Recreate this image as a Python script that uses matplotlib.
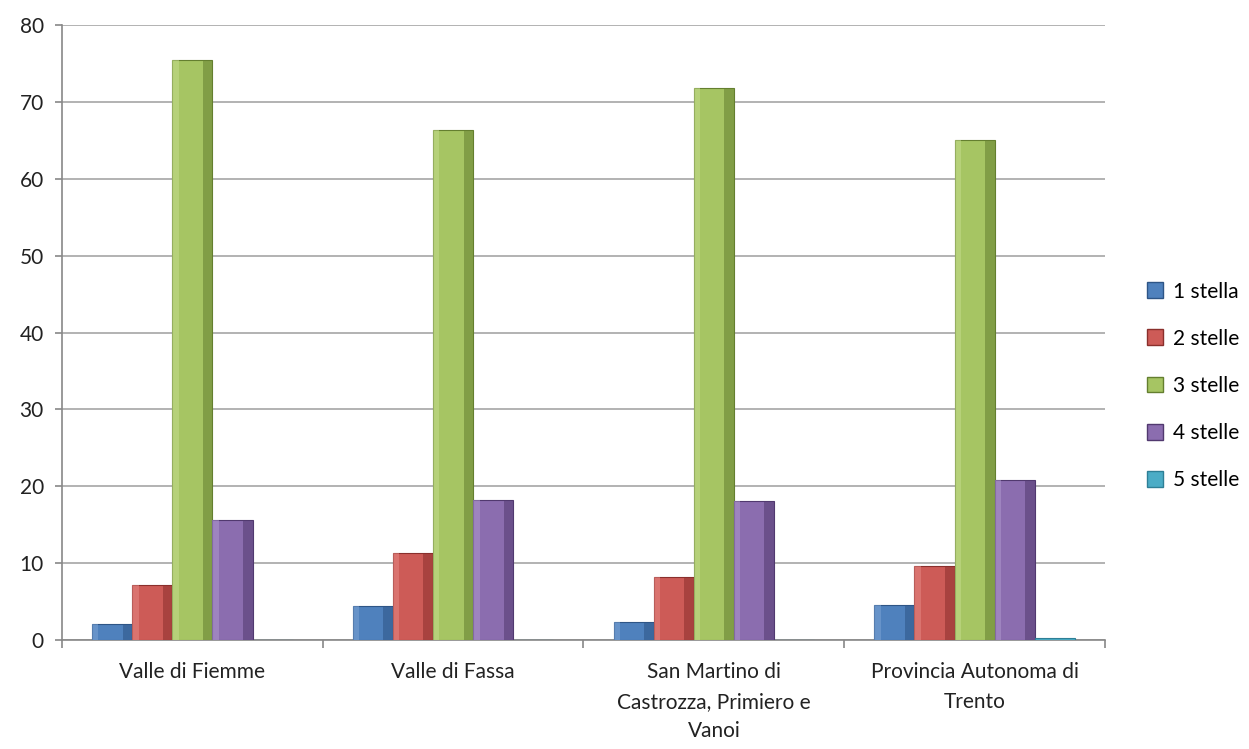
import numpy as np
import matplotlib
matplotlib.use("Agg")
import matplotlib.pyplot as plt
from matplotlib.patches import Patch

plt.rcParams["font.family"] = ["Lato", "DejaVu Sans"]

# Data
zones = ["Valle di Fiemme", "Valle di Fassa",
         "San Martino di\nCastrozza, Primiero e\nVanoi",
         "Provincia Autonoma di\nTrento"]
series = ["1 stella", "2 stelle", "3 stelle", "4 stelle", "5 stelle"]
stella1 = [2.1, 4.4, 2.4, 4.6]
stelle2 = [7.2, 11.3, 8.2, 9.6]
stelle3 = [75.4, 66.3, 71.8, 65.0]
stelle4 = [15.6, 18.2, 18.1, 20.8]
stelle5 = [0.0, 0.0, 0.0, 0.3]
values = [stella1, stelle2, stelle3, stelle4, stelle5]

colors = ["#4F81BD", "#CD5B57", "#A6C563", "#8B6DAF", "#4BACC6"]
dark = ["#2E5586", "#8A2F2C", "#647F2F", "#51396F", "#2E7F96"]
light = ["#7FA6D6", "#E88C88", "#C6DE90", "#B29BD0", "#7CCBE0"]

fig = plt.figure(figsize=(12.49, 7.49), dpi=100)
ax = fig.add_axes([0.0496, 0.1455, 0.8351, 0.8211])

x = np.arange(len(zones))
w = 1 / 6.5
for i, vals in enumerate(values):
    pos = x + (i - 2) * w
    ax.bar(pos, vals, width=w, color=colors[i], edgecolor=dark[i],
           linewidth=0.8, zorder=3, label=series[i])
    if i < 4:
        # bevel shading
        ax.bar(pos + w * 0.38, vals, width=w * 0.24, color=dark[i],
               alpha=0.55, linewidth=0, zorder=4)
        ax.bar(pos - w * 0.42, vals, width=w * 0.16, color=light[i],
               alpha=0.5, linewidth=0, zorder=4)

ax.set_xlim(-0.5, len(zones) - 0.5)
ax.set_ylim(0, 80)
ax.set_yticks(np.arange(0, 81, 10))
ax.yaxis.grid(True, color="#A6A6A6", linewidth=1.2, zorder=0)
ax.set_axisbelow(True)

ax.set_xticks(x)
ax.set_xticklabels(zones, fontsize=15, color="#222222", linespacing=1.6)
ax.set_xticks(np.arange(-0.5, len(zones), 1), minor=True)
ax.tick_params(axis="x", which="major", length=0, pad=16)
ax.tick_params(axis="x", which="minor", length=6, color="#888888", width=1.2)
ax.tick_params(axis="y", length=5, color="#888888", width=1.2,
               labelsize=15, labelcolor="#222222", pad=8)

for s in ["top", "right"]:
    ax.spines[s].set_visible(False)
for s in ["left", "bottom"]:
    ax.spines[s].set_color("#888888")
    ax.spines[s].set_linewidth(1.2)

handles = [Patch(facecolor=colors[i], edgecolor=dark[i]) for i in range(5)]
fig.legend(handles, series, loc="center left", bbox_to_anchor=(0.903, 0.485),
           frameon=False, fontsize=15, handlelength=0.8, handleheight=0.8,
           labelspacing=1.3, handletextpad=0.45)

fig.savefig("out.png", dpi=100)
